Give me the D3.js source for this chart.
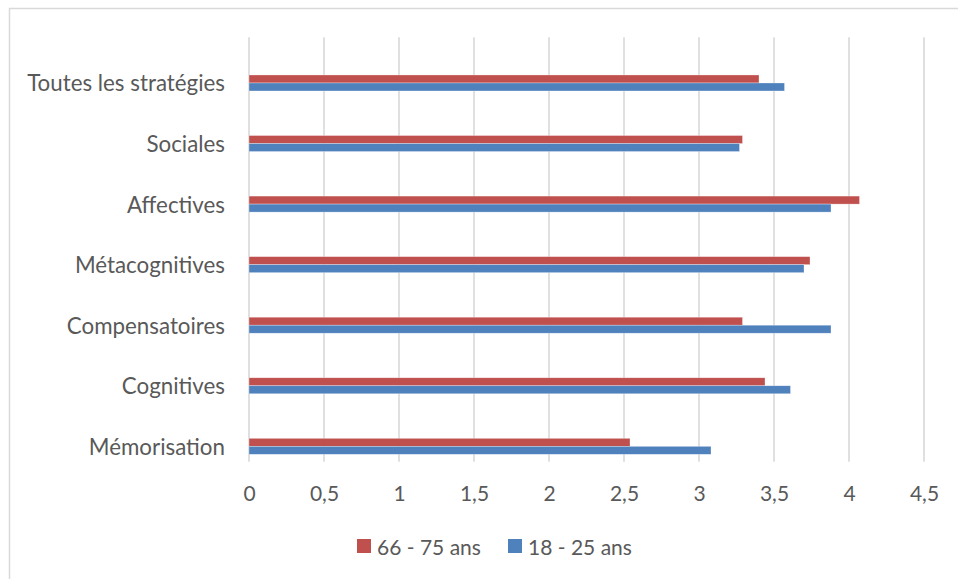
<!DOCTYPE html>
<html><head><meta charset="utf-8">
<script src="https://cdn.jsdelivr.net/npm/d3@7"></script>
<style>
html,body{margin:0;padding:0;background:#fff;}
svg{display:block;}
</style></head>
<body><svg id="chart" width="958" height="579"></svg>
<script>
const categories = ["Toutes les stratégies","Sociales","Affectives","Métacognitives","Compensatoires","Cognitives","Mémorisation"];
const seriesNames = ["66 - 75 ans","18 - 25 ans"];
const seriesColors = ["#C0504D","#4F81BD"];
const values6675 = [3.40,3.29,4.07,3.74,3.29,3.44,2.54];
const values1825 = [3.57,3.27,3.88,3.70,3.88,3.61,3.08];
const tickValues = [0,0.5,1,1.5,2,2.5,3,3.5,4,4.5];
const tickLabels = ["0","0,5","1","1,5","2","2,5","3","3,5","4","4,5"];

const seriesValues = [values6675, values1825];
const svg = d3.select("#chart");
const FONT = "Lato, 'Open Sans', sans-serif";
const textColor = "#595959";

function fitSize(str, target){
  const p = svg.append("text").attr("font-family",FONT).attr("font-size",24).text(str);
  const w = p.node().getComputedTextLength();
  p.remove();
  return 24 * target / w;
}
const fs = fitSize(categories[0], 198);
const fsLegend = fitSize(seriesNames[0], 104);

// chart border
svg.append("rect").attr("x",9.5).attr("y",8.5).attr("width",1000).attr("height",1000)
  .attr("fill","none").attr("stroke","#D9D9D9").attr("stroke-width",1.5);

const x = d3.scaleLinear().domain([0,4.5]).range([249,924]);
const y = d3.scaleBand().domain(categories).range([52.7,476.6]).padding(0);
const ys = d3.scaleBand().domain(seriesNames).range([-8,8]);
const gridTop = 37.3, gridBottom = 461.7;

// gridlines
svg.append("g").selectAll("line").data(tickValues).join("line")
  .attr("x1",d=>x(d)).attr("x2",d=>x(d)).attr("y1",gridTop).attr("y2",gridBottom)
  .attr("stroke","#D9D9D9").attr("stroke-width",1.6);

// x axis labels
const xAxis = d3.axisBottom(x).tickValues(tickValues).tickSize(0).tickPadding(0)
  .tickFormat((d,i)=>tickLabels[i]);
const gx = svg.append("g").attr("transform",`translate(0,${gridBottom})`).call(xAxis);
gx.select(".domain").remove();
gx.selectAll("text").attr("font-family",FONT).attr("font-size",fsLegend).attr("fill",textColor)
  .attr("dy",null).attr("y",30.5).attr("dominant-baseline","central");

// y axis labels
const yAxis = d3.axisLeft(y).tickSize(0).tickPadding(0);
const gy = svg.append("g").attr("transform","translate(225,0)").call(yAxis);
gy.select(".domain").remove();
gy.selectAll("text").attr("font-family",FONT).attr("font-size",fs).attr("fill",textColor)
  .attr("dy",null).attr("x",0).attr("dominant-baseline","central");

// bars
seriesNames.forEach((s,si)=>{
  svg.append("g").selectAll("rect").data(categories).join("rect")
    .attr("x",x(0))
    .attr("y",c=>y(c)+y.bandwidth()/2+ys(s))
    .attr("width",(c,i)=>x(seriesValues[si][i])-x(0))
    .attr("height",ys.bandwidth())
    .attr("fill",seriesColors[si])
    .attr("stroke","#fff").attr("stroke-opacity",0.5).attr("stroke-width",0.6);
});

// legend
const legendX = [357,508];
const legendY = 546;
const lg = svg.append("g");
seriesNames.forEach((s,i)=>{
  lg.append("rect").attr("x",legendX[i]).attr("y",legendY-7).attr("width",14).attr("height",14)
    .attr("fill",seriesColors[i]);
  lg.append("text").attr("x",legendX[i]+20).attr("y",legendY).attr("dominant-baseline","central")
    .attr("font-family",FONT).attr("font-size",fsLegend).attr("fill",textColor).text(s);
});
</script></body></html>
